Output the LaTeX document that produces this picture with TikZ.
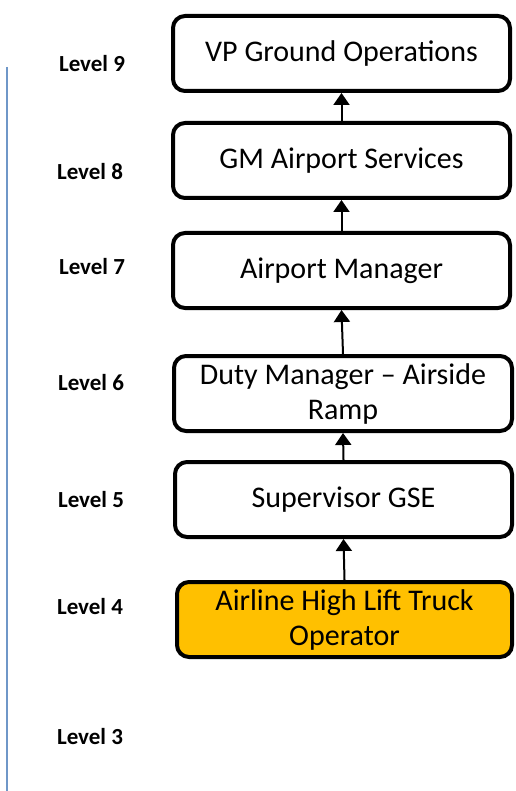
\documentclass[tikz,border=0pt]{standalone}
\usepackage{fontspec}
\setmainfont{Carlito}
\usetikzlibrary{arrows.meta}
\definecolor{boxgold}{HTML}{FFC000}
\definecolor{axisblue}{HTML}{6F97C8}
\tikzset{
  rolebox/.style={draw=black, line width=4pt, rounded corners=12pt, fill=white,
    inner sep=0pt, align=center, font=\fontsize{30}{35}\selectfont, text=black},
  lvl/.style={inner sep=0pt, font=\fontsize{23}{27}\selectfont\bfseries},
  uparrow/.style={line width=2pt, -{Triangle[width=16pt,length=12pt]}},
  axisline/.style={draw=axisblue, line width=1.5pt}
}
\begin{document}
\begin{tikzpicture}[x=1pt,y=-1pt]
\useasboundingbox (0,0) rectangle (515,791);
\node[rolebox, minimum width=337pt, minimum height=75pt] (vp) at (341.5,53.5) {VP Ground Operations};
\node[rolebox, minimum width=337pt, minimum height=75pt] (gm) at (341.5,160.5) {GM Airport Services};
\node[rolebox, minimum width=337pt, minimum height=75pt] (am) at (341.5,270.5) {Airport Manager};
\node[rolebox, minimum width=338pt, minimum height=75pt] (dm) at (343,393.5) {Duty Manager -- Airside\\Ramp};
\node[rolebox, minimum width=337pt, minimum height=75pt] (sg) at (343.5,499.5) {Supervisor GSE};
\node[rolebox, fill=boxgold, minimum width=335pt, minimum height=75pt] (op) at (344.5,619.5) {Airline High Lift Truck\\Operator};
\draw[uparrow] (gm.north) -- (vp.south);
\draw[uparrow] (am.north) -- (gm.south);
\draw[uparrow] (dm.north) -- (am.south);
\draw[uparrow] (sg.north) -- (dm.south);
\draw[uparrow] (op.north) -- (sg.south);
\node[lvl] (l9) at (92,64) {Level 9};
\node[lvl] (l8) at (90,172) {Level 8};
\node[lvl] (l7) at (92,267) {Level 7};
\node[lvl] (l6) at (91,383) {Level 6};
\node[lvl] (l5) at (91,500) {Level 5};
\node[lvl] (l4) at (90,607) {Level 4};
\node[lvl] (l3) at (90,737) {Level 3};
\coordinate (axtop) at (7,67);
\coordinate (axbot) at (7,791);
\draw[axisline] (axtop) -- (axbot);
\end{tikzpicture}
\end{document}
